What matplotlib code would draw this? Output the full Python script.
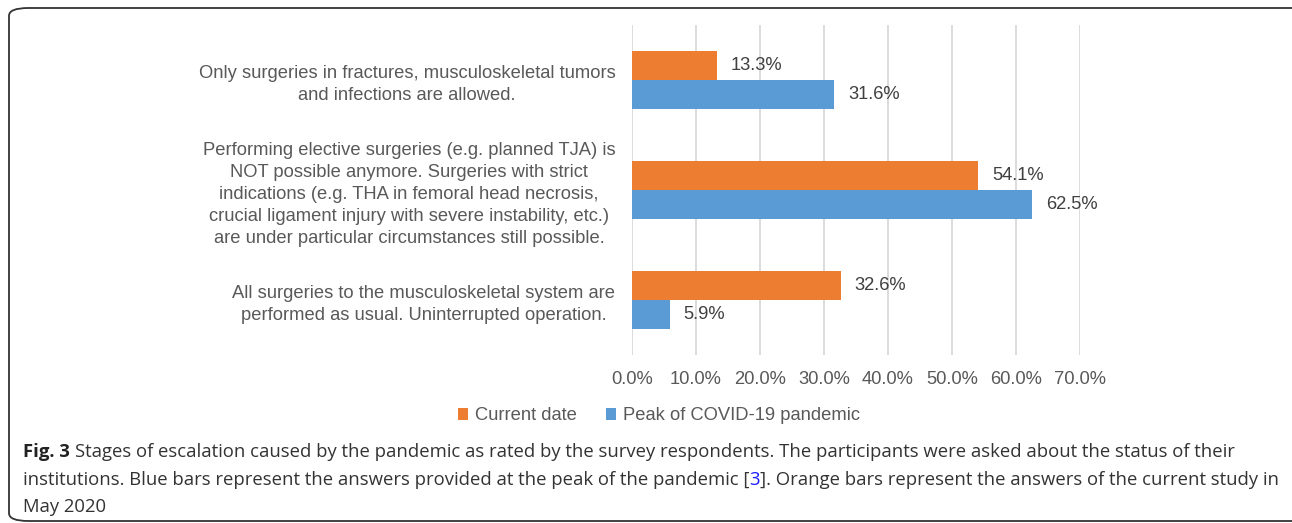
import matplotlib
matplotlib.use("Agg")
import matplotlib.pyplot as plt
import matplotlib.transforms as mtransforms
from matplotlib.patches import FancyBboxPatch

categories = [
    "Only surgeries in fractures, musculoskeletal tumors\nand infections are allowed.",
    "Performing elective surgeries (e.g. planned TJA) is\nNOT possible anymore. Surgeries with strict\n"
    "indications (e.g. THA in femoral head necrosis,\ncrucial ligament injury with severe instability, etc.)\n"
    "are under particular circumstances still possible.",
    "All surgeries to the musculoskeletal system are\nperformed as usual. Uninterrupted operation.",
]
current_date = [13.3, 54.1, 32.6]
peak_covid = [31.6, 62.5, 5.9]
series_names = ["Current date", "Peak of COVID-19 pandemic"]
xticks = [0, 10, 20, 30, 40, 50, 60, 70]

caption_line1 = ("Stages of escalation caused by the pandemic as rated by the survey respondents. "
                 "The participants were asked about the status of their")
caption_line2 = [("institutions. Blue bars represent the answers provided at the peak of the pandemic [", "#333333"),
                 ("3", "#1a1aff"),
                 ("]. Orange bars represent the answers of the current study in", "#333333")]
caption_line3 = "May 2020"

ORANGE = "#ED7D31"
BLUE = "#5B9BD5"
GRAY = "#595959"
FS = 13.2
CFS = 13.3

plt.rcParams["font.family"] = ["Liberation Sans", "DejaVu Sans"]

W, H = 1292, 523
fig = plt.figure(figsize=(W / 100, H / 100), dpi=100)
ax = fig.add_axes([632 / W, 1 - 355 / H, (1080 - 632) / W, (355 - 25) / H])

h = 0.2636
ys = list(range(len(categories)))
b1 = ax.barh([y - h / 2 for y in ys], current_date, height=h, color=ORANGE, label=series_names[0], zorder=3)
b2 = ax.barh([y + h / 2 for y in ys], peak_covid, height=h, color=BLUE, label=series_names[1], zorder=3)
for bars in (b1, b2):
    ax.bar_label(bars, labels=[f"{v:.1f}%" for v in bars.datavalues], padding=10,
                 fontsize=FS, color="#404040")

ax.set_xlim(0, 70)
ax.set_ylim(2.5, -0.5)
ax.set_xticks(xticks)
ax.set_xticklabels([f"{t:.1f}%" for t in xticks], fontsize=FS, color=GRAY)
ax.set_yticks(ys)
ax.set_yticklabels(categories, fontsize=FS, color=GRAY, multialignment="center", linespacing=1.37)
# nudge category labels up a little
shift = mtransforms.ScaledTranslation(0, 0.035, fig.dpi_scale_trans)
for lbl in ax.get_yticklabels():
    lbl.set_transform(lbl.get_transform() + shift)
ax.tick_params(axis="both", length=0)
ax.tick_params(axis="y", pad=12)
ax.tick_params(axis="x", pad=11.5)
ax.grid(axis="x", color="#D9D9D9", linewidth=1.3, zorder=0)
for s in ax.spines.values():
    s.set_visible(False)

fig.legend(handles=[b1, b2], labels=series_names, loc="center", bbox_to_anchor=(659 / W, 1 - 416 / H),
           ncol=2, frameon=False, fontsize=FS, labelcolor=GRAY, handlelength=0.55, handleheight=0.55,
           handletextpad=0.4, columnspacing=1.55)

# caption
cap_font = ["Open Sans", "DejaVu Sans"]
fig.canvas.draw()
r = fig.canvas.get_renderer()


def put(x, y, s, color="#333333", weight="normal"):
    t = fig.text(x / W, 1 - y / H, s, fontsize=CFS, fontweight=weight, family=cap_font,
                 color=color, va="center")
    return t.get_window_extent(renderer=r).x1


x = put(23, 452, "Fig. 3", color="#222222", weight="bold")
put(x + 5, 452, caption_line1)
x = 23
for seg, col in caption_line2:
    x = put(x, 480, seg, color=col)
put(23, 507, caption_line3)

frame = FancyBboxPatch((9 / W, 1 - 521 / H), 1400 / W, (521 - 8) / H,
                       boxstyle="round,pad=0,rounding_size=0.015", transform=fig.transFigure,
                       fill=False, edgecolor="#333333", linewidth=1.3)
fig.patches.append(frame)

fig.savefig("out.png", dpi=100)
